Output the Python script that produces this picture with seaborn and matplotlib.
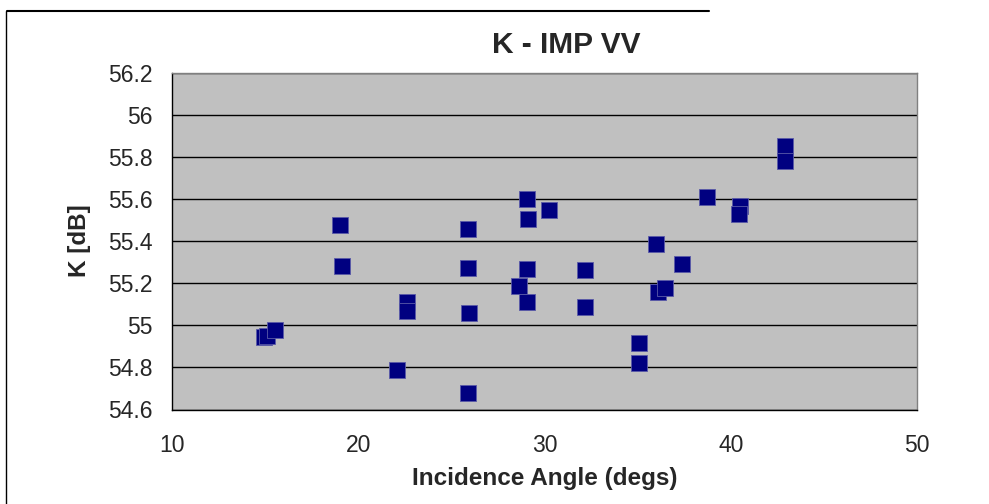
import numpy as np
import pandas as pd
import matplotlib
matplotlib.use("Agg")
import matplotlib.pyplot as plt
from matplotlib.lines import Line2D
import seaborn as sns

# ------------------ Data ------------------
incidence = [14.94, 15.1, 15.53, 19.04, 19.13, 22.6, 22.63, 22.06,
             25.89, 25.89, 25.96, 25.89, 29.04, 29.09, 30.24, 29.04,
             28.61, 29.04, 32.2, 32.2, 35.05, 35.05, 36.0, 37.39,
             36.1, 36.48, 38.75, 40.52, 40.43, 42.93, 42.93]
k_db = [54.944, 54.95, 54.98, 55.477, 55.28, 55.112, 55.07, 54.79,
        55.459, 55.27, 55.057, 54.677, 55.598, 55.506, 55.549, 55.267,
        55.188, 55.111, 55.261, 55.085, 54.917, 54.821, 55.386, 55.291,
        55.158, 55.176, 55.61, 55.567, 55.53, 55.85, 55.779]

x_ticks = [10, 20, 30, 40, 50]
y_ticks = [54.6, 54.8, 55, 55.2, 55.4, 55.6, 55.8, 56, 56.2]
y_labels = ["54.6", "54.8", "55", "55.2", "55.4", "55.6", "55.8", "56", "56.2"]

df = pd.DataFrame({"angle": incidence, "k": k_db})

# ------------------ Plot ------------------
sns.set_style("white")
plt.rcParams["font.family"] = ["Liberation Sans", "DejaVu Sans"]

fig = plt.figure(figsize=(9.89, 5.04), dpi=100)
ax = fig.add_axes([0.1739, 0.1875, 0.7533, 0.6683])
ax.set_facecolor("#C0C0C0")

sns.scatterplot(data=df, x="angle", y="k", marker="s", s=118,
                color="#000080", edgecolor="#5a5aa8", linewidth=0.6,
                ax=ax, zorder=3)

ax.set_xlim(10, 50)
ax.set_ylim(54.6, 56.2)
ax.set_xticks(x_ticks)
ax.set_yticks(y_ticks)
ax.set_yticklabels(y_labels)
ax.yaxis.grid(True, color="black", linewidth=1.0)
ax.set_axisbelow(True)

ax.tick_params(axis="both", direction="out", length=5, width=0.9,
               color="black", labelsize=16.5)
ax.tick_params(axis="x", pad=13)
ax.tick_params(axis="y", pad=9)

for side in ["left", "bottom"]:
    ax.spines[side].set_color("black")
    ax.spines[side].set_linewidth(1.0)
for side in ["top", "right"]:
    ax.spines[side].set_color("#808080")
    ax.spines[side].set_linewidth(1.0)

ax.set_xlabel("Incidence Angle (degs)", fontsize=17.5, fontweight="bold",
              labelpad=7)
ax.set_ylabel("K [dB]", fontsize=17.5, fontweight="bold", labelpad=12)

fig.text(0.573, 0.911, "K - IMP VV", fontsize=21.5, fontweight="bold",
         ha="center", va="center")

# frame lines from the original page
fig.add_artist(Line2D([0.007, 0.717], [0.978, 0.978], color="black",
                      linewidth=1.5, transform=fig.transFigure))
fig.add_artist(Line2D([0.0065, 0.0065], [0.0, 0.978], color="black",
                      linewidth=1.0, transform=fig.transFigure))

fig.savefig("out.png", dpi=100)
